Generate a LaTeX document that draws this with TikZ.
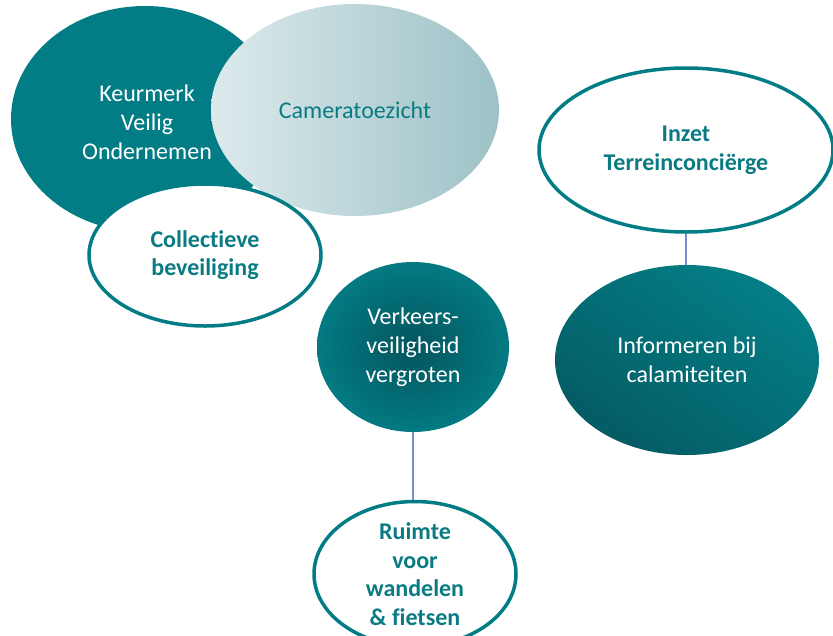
\documentclass[tikz,border=0pt]{standalone}
\usepackage{fontspec}
\setmainfont{Carlito}[Ligatures=NoCommon]
\usetikzlibrary{shapes.geometric}
\definecolor{teal1}{HTML}{037D85}
\definecolor{tealtext}{HTML}{0B7B83}
\definecolor{camL}{HTML}{DDEAEC}
\definecolor{camR}{HTML}{9CC2C7}
\definecolor{infoL}{HTML}{047F87}
\definecolor{infoD}{HTML}{045B64}
\definecolor{verkIn}{HTML}{04555E}
\definecolor{verkOut}{HTML}{037A82}
\definecolor{linkblue}{HTML}{7290CC}
\tikzset{
  oval/.style={ellipse, inner sep=0pt, align=center},
  outlined/.style={oval, draw=teal1, line width=3.5pt, fill=white, text=tealtext, font=\fontsize{24}{28.5}\selectfont\bfseries},
  whitetext/.style={align=center, text=white, font=\fontsize{24}{29}\selectfont},
  link/.style={draw=linkblue, line width=1.1pt},
}
\begin{document}
\begin{tikzpicture}[x=1pt,y=-1pt]
\useasboundingbox (0,0) rectangle (833,635);
% Keurmerk
\node[oval, fill=teal1, minimum width=268pt, minimum height=226pt] (kvo) at (145,119) {};
\node[whitetext] (kvot) at (147,122) {Keurmerk\\Veilig\\Ondernemen};
% Cameratoezicht
\node[oval, left color=camL, right color=camR, minimum width=288pt, minimum height=212pt,
      text=tealtext, font=\fontsize{24}{29}\selectfont] (cam) at (355,110) {Cameratoezicht};
% Collectieve beveiliging
\node[outlined, minimum width=232pt, minimum height=142pt] (col) at (205,255) {Collectieve\\beveiliging};
% Inzet Terreinconcierge
\node[outlined, minimum width=294pt, minimum height=164pt] (inz) at (686,150) {Inzet\\Terreinconciërge};
% Informeren
\node[oval, top color=infoL, bottom color=infoD, shading angle=-35, minimum width=264pt, minimum height=190pt,
      text=white, font=\fontsize{24}{29}\selectfont] (inf) at (687,360) {Informeren bij\\calamiteiten};
% Verkeersveiligheid
\node[oval, inner color=verkIn, outer color=verkOut, minimum width=192pt, minimum height=170pt,
      text=white, font=\fontsize{24}{29}\selectfont] (verk) at (413,347) {Verkeers-\\veiligheid\\vergroten};
% Ruimte
\node[outlined, minimum width=202pt, minimum height=138pt] (ruim) at (415,574) {Ruimte\\voor\\wandelen\\\& fietsen};
% connectors
\draw[link] (inz.south) -- (inz.south |- inf.north);
\draw[link] (verk.south) -- (verk.south |- ruim.north);
\end{tikzpicture}
\end{document}
